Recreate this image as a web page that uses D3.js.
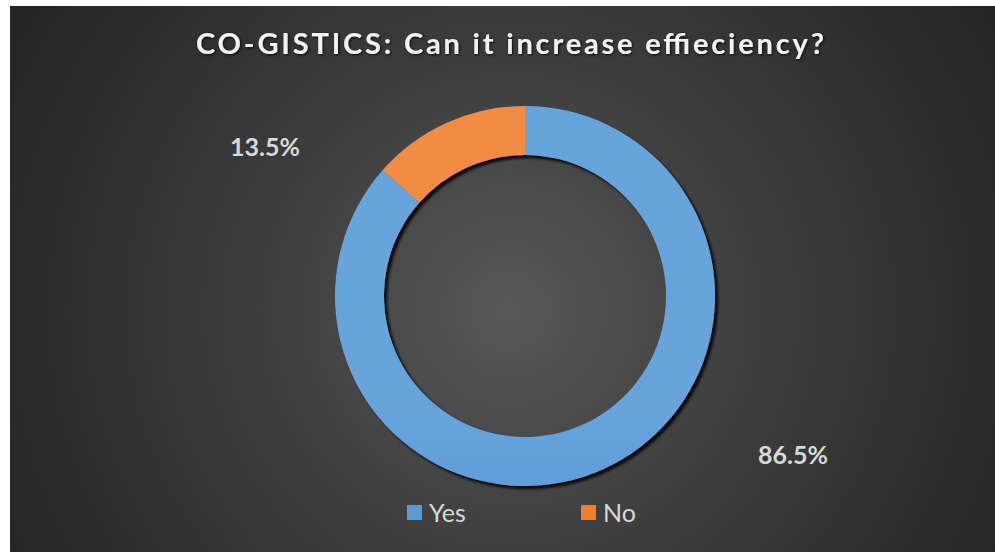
<!DOCTYPE html>
<html>
<head>
<meta charset="utf-8">
<script src="https://cdn.jsdelivr.net/npm/d3@7/dist/d3.min.js"></script>
<style>
  html, body { margin: 0; padding: 0; background: #ffffff; }
  svg { display: block; }
</style>
</head>
<body>
<svg id="chart" width="995" height="552"></svg>
<script>
// Survey answers
const categories = ["Yes", "No"];
const values = [86.5, 13.5];
const labelText = ["86.5%", "13.5%"];
const titleText = "CO-GISTICS: Can it increase effieciency?";

const W = 995, H = 552;
const svg = d3.select("#chart");
const defs = svg.append("defs");

// Background: dark radial gradient
const bg = defs.append("radialGradient").attr("id", "bgGrad")
  .attr("gradientUnits", "userSpaceOnUse")
  .attr("cx", 510).attr("cy", 310).attr("r", 560);
bg.append("stop").attr("offset", "0%").attr("stop-color", "#585858");
bg.append("stop").attr("offset", "45%").attr("stop-color", "#3d3d3d");
bg.append("stop").attr("offset", "100%").attr("stop-color", "#252525");

const frame = { x: 10, y: 6, w: W - 10, h: H - 6 };
svg.append("rect")
  .attr("x", frame.x).attr("y", frame.y)
  .attr("width", frame.w).attr("height", frame.h)
  .attr("fill", "url(#bgGrad)");

// Slice fills: soft vertical gradients
const cx = 525, cy = 296, rOuter = 190, rInner = 141;
const fills = { Yes: ["#68a4dc", "#4589d2"], No: ["#f28c45", "#e97322"] };
const legendFill = { Yes: "#5b9bd5", No: "#ed7d31" };
categories.forEach(c => {
  const g = defs.append("linearGradient").attr("id", "grad" + c)
    .attr("gradientUnits", "userSpaceOnUse")
    .attr("x1", 0).attr("y1", cy - rOuter).attr("x2", 0).attr("y2", cy + rOuter);
  g.append("stop").attr("offset", "0%").attr("stop-color", fills[c][0]);
  g.append("stop").attr("offset", "100%").attr("stop-color", fills[c][1]);
});

// Drop shadow beneath the ring
const shadow = defs.append("filter").attr("id", "ringShadow")
  .attr("x", "-20%").attr("y", "-20%").attr("width", "140%").attr("height", "140%");
shadow.append("feDropShadow")
  .attr("dx", 3).attr("dy", 3).attr("stdDeviation", 1.6)
  .attr("flood-color", "#000").attr("flood-opacity", 0.95);

// Text halo for the title
const tShadow = defs.append("filter").attr("id", "textShadow")
  .attr("x", "-10%").attr("y", "-30%").attr("width", "120%").attr("height", "160%");
tShadow.append("feDropShadow")
  .attr("dx", 1).attr("dy", 1).attr("stdDeviation", 1.5)
  .attr("flood-color", "#000").attr("flood-opacity", 0.8);

// Title
svg.append("text")
  .attr("x", 510).attr("y", 54)
  .attr("text-anchor", "middle")
  .attr("font-family", "Lato, 'Open Sans', sans-serif")
  .attr("font-weight", 700)
  .attr("font-size", 29)
  .attr("fill", "#f2f2f2")
  .attr("textLength", 628)
  .attr("lengthAdjust", "spacing")
  .attr("filter", "url(#textShadow)")
  .text(titleText);

// Donut
const color = d3.scaleOrdinal().domain(categories).range(categories.map(c => `url(#grad${c})`));
const pie = d3.pie().sort(null).value(d => d.value);
const arc = d3.arc().innerRadius(rInner).outerRadius(rOuter);
const data = categories.map((c, i) => ({ category: c, value: values[i], label: labelText[i] }));
const arcs = pie(data);

const ring = svg.append("g")
  .attr("transform", `translate(${cx},${cy})`)
  .attr("filter", "url(#ringShadow)");
ring.selectAll("path")
  .data(arcs)
  .join("path")
  .attr("d", arc)
  .attr("fill", d => color(d.data.category));

// Data labels, placed outside the ring
const labelPos = { Yes: [268, 168], No: [-260, -140] };
svg.append("g")
  .attr("transform", `translate(${cx},${cy})`)
  .selectAll("text")
  .data(arcs)
  .join("text")
  .attr("x", d => labelPos[d.data.category][0])
  .attr("y", d => labelPos[d.data.category][1])
  .attr("text-anchor", "middle")
  .attr("font-family", "Lato, 'Open Sans', sans-serif")
  .attr("font-weight", 700)
  .attr("font-size", 25)
  .attr("fill", "#d9d9d9")
  .text(d => d.data.label);

// Legend
const legendX = d3.scalePoint().domain(categories).range([407, 581]);
const items = svg.append("g").selectAll("g")
  .data(categories)
  .join("g")
  .attr("transform", c => `translate(${legendX(c)},505)`);
items.append("rect")
  .attr("width", 15).attr("height", 15)
  .attr("fill", c => legendFill[c]);
items.append("text")
  .attr("x", 22).attr("y", 17)
  .attr("font-family", "Lato, 'Open Sans', sans-serif")
  .attr("font-size", 25)
  .attr("fill", "#d9d9d9")
  .text(c => c);
</script>
</body>
</html>
